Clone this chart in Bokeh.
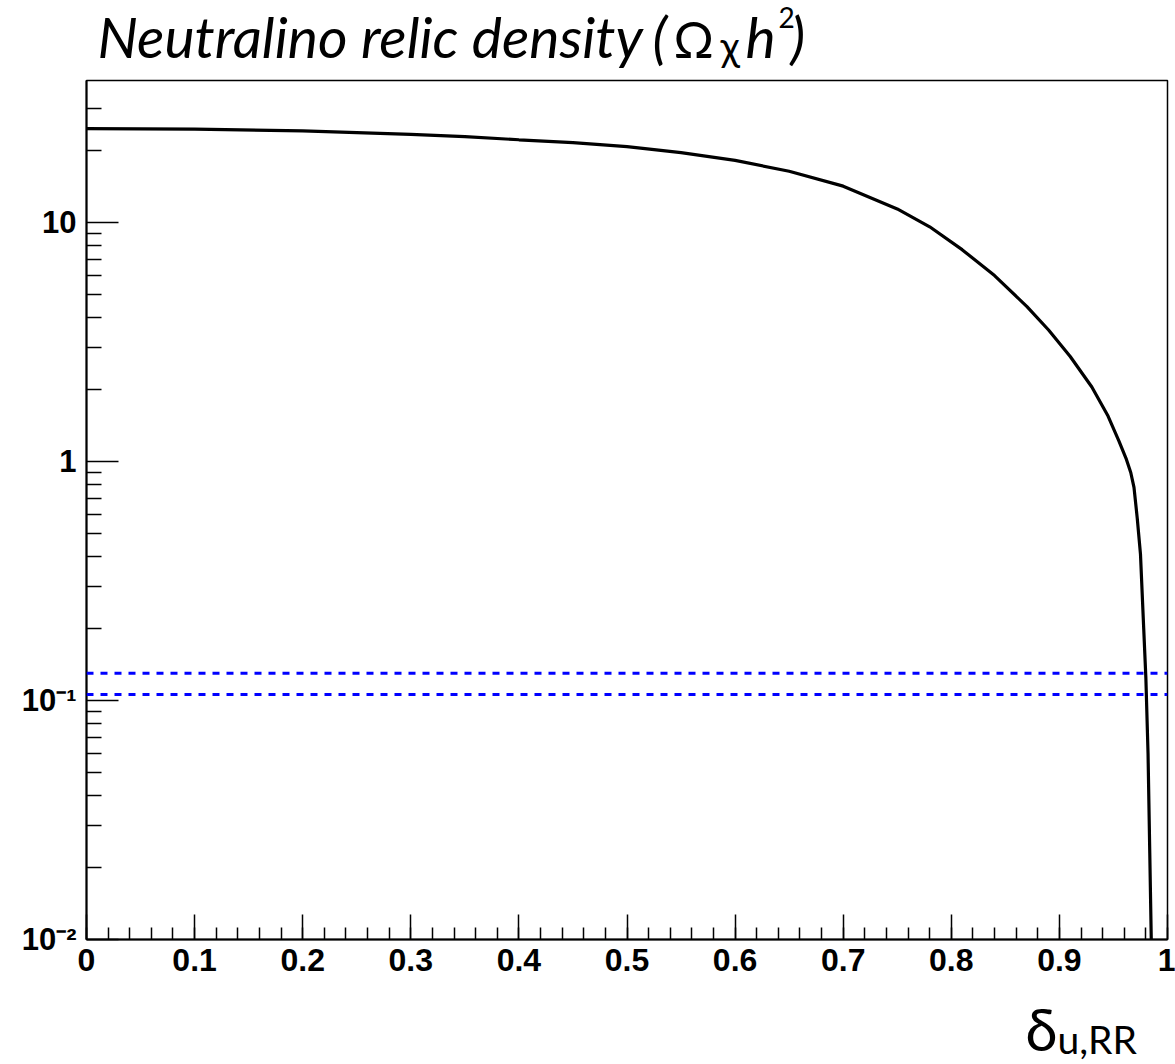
from bokeh.plotting import figure
from bokeh.layouts import column
from bokeh.models import Span, FixedTicker, Range1d
from bokeh.core.properties import value
from bokeh.embed import file_html
from bokeh.resources import INLINE

# ---------------- data ----------------
delta_u_rr = [0.0, 0.1, 0.2, 0.3, 0.35, 0.4, 0.45, 0.5, 0.55, 0.6, 0.65, 0.7,
              0.75, 0.78, 0.81, 0.84, 0.87, 0.89, 0.91, 0.93, 0.945, 0.955,
              0.962, 0.966, 0.969, 0.972, 0.975, 0.978, 0.980, 0.982, 0.9836, 0.985]
omega_h2 = [24.7, 24.6, 24.2, 23.4, 22.9, 22.2, 21.6, 20.8, 19.6, 18.2, 16.4, 14.2,
            11.4, 9.6, 7.7, 6.0, 4.45, 3.55, 2.75, 2.05, 1.55, 1.22,
            1.02, 0.90, 0.78, 0.58, 0.41, 0.20, 0.124, 0.060, 0.023, 0.0099]
wmap_lower = 0.106
wmap_upper = 0.130

x_tick_values = [0.0, 0.1, 0.2, 0.3, 0.4, 0.5, 0.6, 0.7, 0.8, 0.9, 1.0]
x_tick_labels = ["0", "0.1", "0.2", "0.3", "0.4", "0.5", "0.6", "0.7", "0.8", "0.9", "1"]
y_tick_values = [0.01, 0.1, 1.0, 10.0]
y_tick_labels = ["10\u207b\u00b2", "10\u207b\u00b9", "1", "10"]

x_min, x_max = 0.0, 1.0
y_min, y_max = 0.01, 39.3

W, H = 1175, 1064
TITLE_H = 76
FRAME_L, FRAME_W, FRAME_H = 86, 1081, 859
MAIN_TOP, MAIN_BOTTOM = 4, 55
BOTTOM_H = H - TITLE_H - (MAIN_TOP + FRAME_H + MAIN_BOTTOM)
BASELINE_SHIFT = 0.42  # em; measured offset of the rendered text baseline


def strip(height):
    # text strip whose frame is aligned with the main frame; x in page pixels,
    # y in pixels from the strip's top edge
    f = figure(width=W, height=height,
               x_range=Range1d(FRAME_L, FRAME_L + FRAME_W), y_range=Range1d(height, 0),
               x_axis_type=None, y_axis_type=None, output_backend="svg",
               toolbar_location=None, min_border=0)
    f.outline_line_color = None
    f.background_fill_color = "white"
    f.border_fill_color = "white"
    f.grid.visible = False
    return f


def put(fig, txt, x, baseline, size_px, style="normal", font="Lato"):
    fig.text(x=[x], y=[baseline - BASELINE_SHIFT * size_px], text=[txt],
             text_align="left", text_baseline="alphabetic",
             text_font=value(font), text_font_style=style,
             text_font_size=f"{size_px}px", text_color="black")


# ---------------- title strip ----------------
title_fig = strip(TITLE_H)
title_parts = [
    # text, left x, baseline y, size, style
    ("Neutralino relic density", 97, 59, 57, "italic"),
    ("(", 652, 59, 57, "italic"),
    ("\u03a9", 673, 59, 50, "normal"),
    ("\u03c7", 720, 62, 40, "normal"),
    ("h", 745, 59, 57, "italic"),
    ("2", 778, 29, 28, "normal"),
    (")", 790, 59, 57, "italic"),
]
for txt, xs, ys, size, style in title_parts:
    put(title_fig, txt, xs, ys, size, style)

# ---------------- main figure ----------------
p = figure(frame_width=FRAME_W, frame_height=FRAME_H,
           x_range=(x_min, x_max), y_range=(y_min, y_max), y_axis_type="log",
           output_backend="svg", toolbar_location=None,
           min_border_left=FRAME_L, min_border_right=W - FRAME_L - FRAME_W,
           min_border_top=MAIN_TOP, min_border_bottom=MAIN_BOTTOM)
p.background_fill_color = "white"
p.border_fill_color = "white"
p.grid.visible = False
p.outline_line_color = "black"
p.outline_line_width = 1.5

TICK_FONT = "Liberation Sans"

p.xaxis.ticker = FixedTicker(ticks=x_tick_values,
                             minor_ticks=[i / 50 for i in range(51)])
p.xaxis.major_label_overrides = dict(zip(x_tick_values, x_tick_labels))
p.xaxis.major_tick_in = 25
p.xaxis.minor_tick_in = 12

minor_y = [m * 10.0 ** e for e in range(-2, 2) for m in range(2, 10) if m * 10.0 ** e <= y_max]
p.yaxis.ticker = FixedTicker(ticks=y_tick_values, minor_ticks=minor_y)
p.yaxis.major_label_overrides = dict(zip(y_tick_values, y_tick_labels))
p.yaxis.major_tick_in = 32
p.yaxis.minor_tick_in = 15
p.yaxis.major_label_orientation = "horizontal"

for ax in (p.xaxis, p.yaxis):
    ax.axis_line_width = 2
    ax.major_tick_out = 0
    ax.minor_tick_out = 0
    ax.major_tick_line_width = 1.5
    ax.minor_tick_line_width = 1.5
    ax.major_label_text_font = TICK_FONT
    ax.major_label_text_font_style = "bold"
    ax.major_label_text_color = "black"
p.xaxis.major_label_text_font_size = "32px"
p.xaxis.major_label_standoff = 9
p.yaxis.major_label_text_font_size = "31px"
p.yaxis.major_label_standoff = 10

p.line(delta_u_rr, omega_h2, line_color="black", line_width=3.2)
for level in (wmap_upper, wmap_lower):
    p.add_layout(Span(location=level, dimension="width", line_color="#0000ff",
                      line_width=3, line_dash="7 7"))

# ---------------- x-axis title strip ----------------
bottom_fig = strip(BOTTOM_H)
strip_top = H - BOTTOM_H
put(bottom_fig, "\u03b4", 1025, 1052 - strip_top, 58)
put(bottom_fig, "u,RR", 1057, 1055 - strip_top, 39)

layout = column(title_fig, p, bottom_fig, spacing=0)
open("out.html", "w").write(file_html(layout, INLINE))
